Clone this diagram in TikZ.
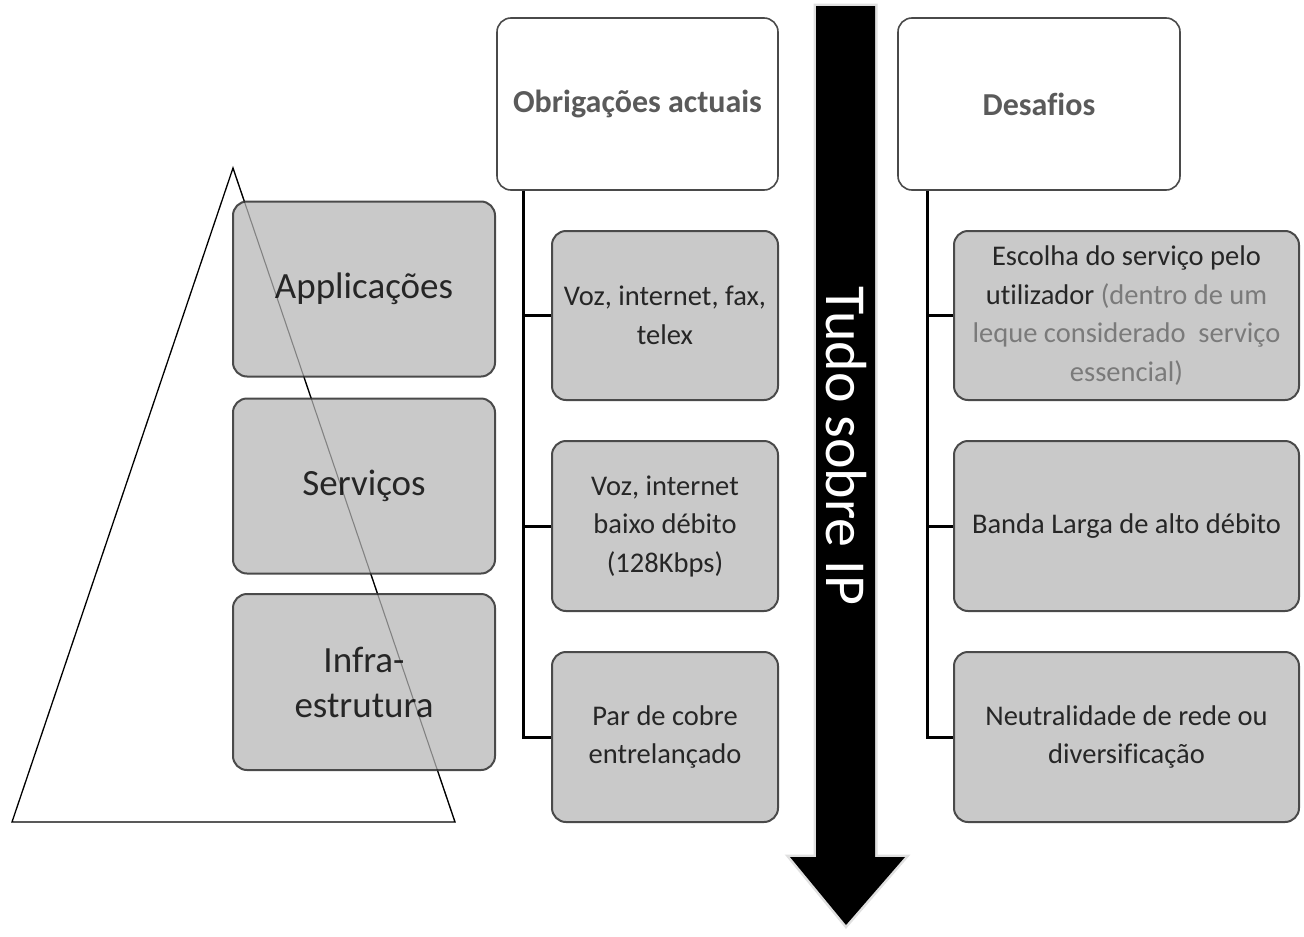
\documentclass[tikz,border=0pt]{standalone}
\usepackage{fontspec}
\setmainfont[Ligatures=NoCommon]{Carlito}
\definecolor{boxgray}{HTML}{C9C9C9}
\definecolor{boxline}{HTML}{4A4A4A}
\definecolor{txtdark}{HTML}{262626}
\definecolor{txtlight}{HTML}{7A7A7A}
\definecolor{headtxt}{HTML}{5A5A5A}
\pgfdeclarehorizontalshading{bevel}{100bp}{color(0bp)=(boxgray); color(1.5bp)=(white!75!boxgray); color(3.5bp)=(boxgray); color(96.5bp)=(boxgray); color(98.5bp)=(white!75!boxgray); color(100bp)=(boxgray)}
\tikzset{
  graybox/.style={rectangle, rounded corners=14pt, draw=boxline, line width=2pt,
    fill=boxgray, shading=bevel, shade, text=txtdark, align=center, inner sep=0pt},
  leftbox/.style={graybox, minimum width=262pt, minimum height=175pt,
    font=\fontsize{37}{45}\selectfont},
  childbox/.style={graybox, minimum height=169pt,
    font=\fontsize{28.5}{38.5}\selectfont},
  headbox/.style={rectangle, rounded corners=14pt, draw=boxline, line width=1.6pt,
    fill=white, text=headtxt, align=center, inner sep=0pt,
    minimum width=281pt, minimum height=172pt,
    font=\fontsize{32}{38}\selectfont\bfseries},
  conn/.style={draw=black, line width=3pt},
}
\begin{document}
\begin{tikzpicture}[x=1pt,y=-1pt]
\useasboundingbox (0,0) rectangle (1304,937);
\fill[white] (0,0) rectangle (1304,937);

% pyramid
\draw[black, line width=1.3pt, fill=white, line join=miter] (233,168) -- (455,822) -- (12,822) -- cycle;

% left boxes
\node[leftbox] (app) at (364,289) {Applicações};
\node[leftbox] (serv) at (364,486) {Serviços};
\node[leftbox, minimum height=176pt] (infra) at (364,682) {Infra-\\estrutura};

% pyramid edge seen through boxes
\draw[black, opacity=.35, line width=1.1pt] (233,168) -- (455,822);

% arrow
\path[draw=black!12, line width=5pt, fill=black, line join=miter]
  (816,6) -- (875,6) -- (875,857) -- (905,857) -- (846,925) -- (790,857) -- (816,857) -- cycle;
\fill[black] (816,6) -- (875,6) -- (875,857) -- (905,857) -- (846,925) -- (790,857) -- (816,857) -- cycle;
\node[rotate=-90, text=white, font=\fontsize{58}{66}\selectfont, inner sep=0pt] (ip) at (846,446) {Tudo sobre IP};

% current obligations
\node[headbox] (oa) at (637.5,104) {Obrigações actuais};
\node[childbox, minimum width=226pt] (o1) at (665,315.5) {Voz, internet, fax,\\telex};
\node[childbox, minimum width=226pt, minimum height=170pt] (o2) at (665,526) {Voz, internet\\baixo débito\\(128Kbps)};
\node[childbox, minimum width=226pt, minimum height=170pt] (o3) at (665,737) {Par de cobre\\entrelançado};
\coordinate (oat) at ([xshift=27pt]oa.south west);
\draw[conn] (oat) |- (o1.west);
\draw[conn] (oat) |- (o2.west);
\draw[conn] (oat) |- (o3.west);

% challenges
\node[headbox, minimum width=282pt] (de) at (1039,104) {Desafios};
\node[childbox, minimum width=345pt] (d1) at (1126.5,315.5) {Escolha do serviço pelo\\utilizador \textcolor{txtlight}{(dentro de um}\\\textcolor{txtlight}{leque considerado\ \ serviço}\\\textcolor{txtlight}{essencial)}};
\node[childbox, minimum width=345pt, minimum height=170pt] (d2) at (1126.5,526) {Banda Larga de alto débito};
\node[childbox, minimum width=345pt, minimum height=170pt] (d3) at (1126.5,737) {Neutralidade de rede ou\\diversificação};
\coordinate (det) at ([xshift=30pt]de.south west);
\draw[conn] (det) |- (d1.west);
\draw[conn] (det) |- (d2.west);
\draw[conn] (det) |- (d3.west);
\end{tikzpicture}
\end{document}
